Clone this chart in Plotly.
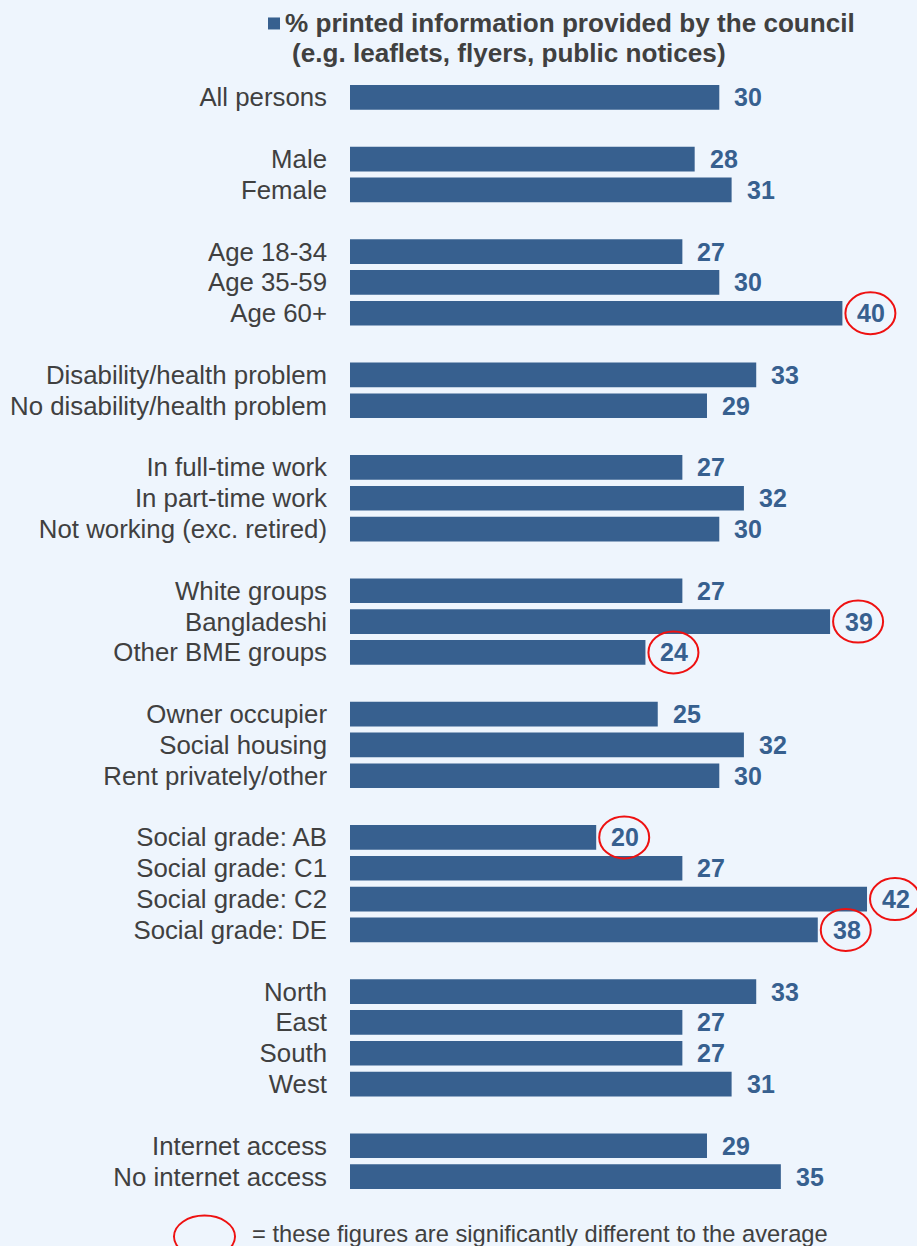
import plotly.graph_objects as go

# Survey breakdown: % who get information from printed council material
categories = [
    "All persons",
    "Male", "Female",
    "Age 18-34", "Age 35-59", "Age 60+",
    "Disability/health problem", "No disability/health problem",
    "In full-time work", "In part-time work", "Not working (exc. retired)",
    "White groups", "Bangladeshi", "Other BME groups",
    "Owner occupier", "Social housing", "Rent privately/other",
    "Social grade: AB", "Social grade: C1", "Social grade: C2", "Social grade: DE",
    "North", "East", "South", "West",
    "Internet access", "No internet access",
]
values = [
    30,
    28, 31,
    27, 30, 40,
    33, 29,
    27, 32, 30,
    27, 39, 24,
    25, 32, 30,
    20, 27, 42, 38,
    33, 27, 27, 31,
    29, 35,
]
group_sizes = [1, 2, 3, 2, 3, 3, 3, 4, 4, 2]
significant = [
    "Age 60+", "Bangladeshi", "Other BME groups",
    "Social grade: AB", "Social grade: C2", "Social grade: DE",
]
series_name = "% printed information provided by the council"
series_note = "(e.g. leaflets, flyers, public notices)"
key_text = "= these figures are significantly different to the average"

BG = "#EEF5FD"
BAR = "#37608F"
TEXT = "#404040"
RED = "#EE1111"
FONT = "Arial, Liberation Sans, sans-serif"

W, H = 917, 1246
ML, MR = 350, 0

# slot positions: one blank slot between groups
positions = []
slot = 0
for size in group_sizes:
    for _ in range(size):
        positions.append(slot)
        slot += 1
    slot += 1
last_slot = positions[-1]

slot_px = (1177 - 97) / last_slot
MT = 97 - 0.5 * slot_px
MB = H - (1177 + 0.5 * slot_px)
plot_w = W - ML - MR
plot_h = H - MT - MB
x_max = plot_w / 12.31


def px(x):
    return (x - ML) / plot_w


def py(y):
    return (H - MB - y) / plot_h


fig = go.Figure()
fig.add_trace(go.Bar(
    x=values,
    y=positions,
    orientation="h",
    width=0.8,
    marker=dict(color=BAR, line=dict(width=0)),
    name=series_name,
    showlegend=False,
    hoverinfo="skip",
))

annotations = []
shapes = []
for cat, v, p in zip(categories, values, positions):
    annotations.append(dict(
        x=v, y=p, xref="x", yref="y", text=str(v),
        xanchor="left", yanchor="middle", xshift=13, showarrow=False,
        font=dict(family=FONT, size=25, color=BAR, weight="bold"),
    ))
    if cat in significant:
        shapes.append(dict(
            type="circle", xref="x", yref="y",
            xsizemode="pixel", ysizemode="pixel",
            xanchor=v, yanchor=p,
            x0=3, x1=53, y0=-21, y1=21,
            line=dict(color=RED, width=2),
        ))

# series key at the top
shapes.append(dict(
    type="rect", xref="paper", yref="paper",
    x0=px(268), x1=px(280), y0=py(29), y1=py(17),
    fillcolor=BAR, line=dict(width=0),
))
annotations.append(dict(
    x=px(283), y=py(23), xref="paper", yref="paper", text=series_name,
    xanchor="left", yanchor="middle", showarrow=False,
    font=dict(family=FONT, size=26.1, color=TEXT, weight="bold"),
))
annotations.append(dict(
    x=px(290), y=py(53), xref="paper", yref="paper", text=series_note,
    xanchor="left", yanchor="middle", showarrow=False,
    font=dict(family=FONT, size=26.1, color=TEXT, weight="bold"),
))

# significance key at the bottom
shapes.append(dict(
    type="circle", xref="paper", yref="paper",
    x0=px(174), x1=px(235), y0=py(1258), y1=py(1216),
    line=dict(color=RED, width=2),
))
annotations.append(dict(
    x=px(250), y=py(1234), xref="paper", yref="paper", text=key_text,
    xanchor="left", yanchor="middle", showarrow=False,
    font=dict(family=FONT, size=23.7, color=TEXT),
))

fig.update_layout(
    width=W, height=H,
    margin=dict(l=ML, r=MR, t=MT, b=MB, pad=0),
    paper_bgcolor=BG, plot_bgcolor=BG,
    bargap=0.2,
    xaxis=dict(
        range=[0, x_max], visible=False, fixedrange=True,
    ),
    yaxis=dict(
        range=[last_slot + 0.5, -0.5],
        tickmode="array", tickvals=positions, ticktext=categories,
        ticks="", showgrid=False, zeroline=False, showline=False,
        ticklabelstandoff=22,
        tickfont=dict(family=FONT, size=25.8, color=TEXT),
        fixedrange=True,
    ),
    annotations=annotations,
    shapes=shapes,
    showlegend=False,
)

fig.write_html("out.html")
